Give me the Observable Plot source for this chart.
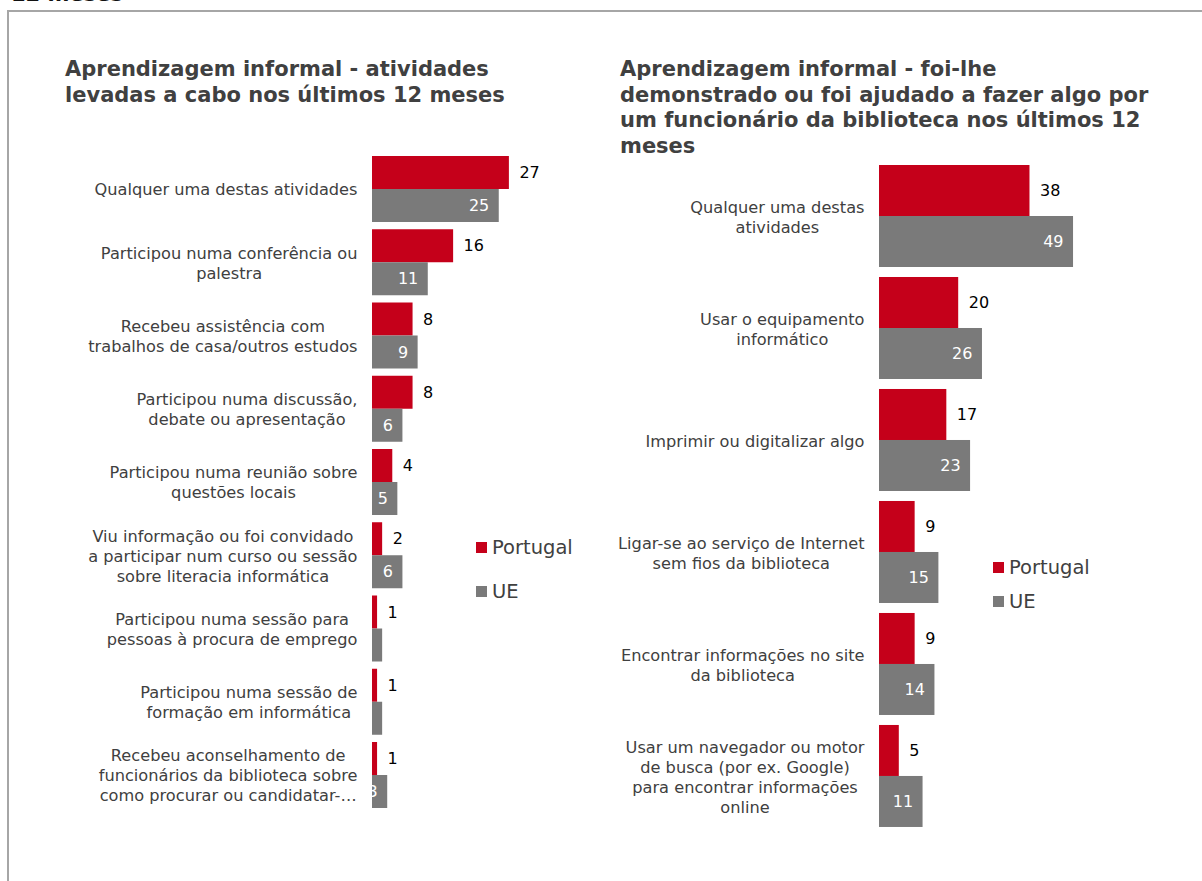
<!DOCTYPE html>
<html>
<head>
<meta charset="utf-8">
<script src="https://cdn.jsdelivr.net/npm/d3@7"></script>
<script src="https://cdn.jsdelivr.net/npm/@observablehq/plot@0.6"></script>
<style>
  html, body { margin: 0; padding: 0; background: #fff; }
  body { width: 1202px; height: 881px; position: relative; overflow: hidden; font-family: "DejaVu Sans", Verdana, sans-serif; }
  .frame { position: absolute; left: 7px; top: 10px; width: 1200px; height: 880px; border-left: 2px solid #a6a6a6; border-top: 2px solid #a6a6a6; box-sizing: border-box; }
  .toptitle { position: absolute; left: 11px; top: -18px; font-size: 21px; font-weight: bold; color: #111; white-space: nowrap; }
  .title { position: absolute; font-size: 21px; font-weight: bold; color: #404040; line-height: 25.5px; white-space: nowrap; }
  .panel { position: absolute; top: 0; }
  .leg { position: absolute; font-size: 19.5px; color: #404040; white-space: nowrap; line-height: 22px; }
  .leg span.sw { display: inline-block; width: 11px; height: 11px; margin-right: 5px; vertical-align: 1px; }
</style>
</head>
<body>
<div class="toptitle">12 meses</div>
<div class="frame"></div>
<div class="title" style="left:65px; top:57px;">Aprendizagem informal - atividades<br>levadas a cabo nos últimos 12 meses</div>
<div class="title" style="left:620px; top:57px;">Aprendizagem informal - foi-lhe<br>demonstrado ou foi ajudado a fazer algo por<br>um funcionário da biblioteca nos últimos 12<br>meses</div>
<div id="left" class="panel" style="left:0px;"></div>
<div id="right" class="panel" style="left:600px;"></div>
<div id="legL"></div>
<div id="legR"></div>
<script>
// ---------- DATA ----------
const series = ["Portugal", "UE"];
const colors = ["#c5001a", "#7a7a7a"];

const leftCategories = [
  "Qualquer uma destas atividades",
  "Participou numa conferência ou\npalestra",
  "Recebeu assistência com\ntrabalhos de casa/outros estudos",
  "Participou numa discussão,\ndebate ou apresentação",
  "Participou numa reunião sobre\nquestões locais",
  "Viu informação ou foi convidado\na participar num curso ou sessão\nsobre literacia informática",
  "Participou numa sessão para\npessoas à procura de emprego",
  "Participou numa sessão de\nformação em informática",
  "Recebeu aconselhamento de\nfuncionários da biblioteca sobre\ncomo procurar ou candidatar-…"
];
const leftPortugal = [27, 16, 8, 8, 4, 2, 1, 1, 1];
const leftUE       = [25, 11, 9, 6, 5, 6, 2, 2, 3];

const rightCategories = [
  "Qualquer uma destas\natividades",
  "Usar o equipamento\ninformático",
  "Imprimir ou digitalizar algo",
  "Ligar-se ao serviço de Internet\nsem fios da biblioteca",
  "Encontrar informações no site\nda biblioteca",
  "Usar um navegador ou motor\nde busca (por ex. Google)\npara encontrar informações\nonline"
];
const rightPortugal = [38, 20, 17, 9, 9, 5];
const rightUE       = [49, 26, 23, 15, 14, 11];

// ---------- HELPERS ----------
const FONT = "DejaVu Sans";
const labelSize = 16.2;
const valueSize = 16;
const canvas = document.createElement("canvas");
const ctx = canvas.getContext("2d");
function textWidth(s, size) {
  ctx.font = `${size}px "${FONT}"`;
  return Math.max(...s.split("\n").map(l => ctx.measureText(l).width));
}

function panel(cats, pt, ue, opts) {
  const {width, height, marginLeft, marginTop, marginBottom, domainMax, paddingInner} = opts;
  const k = opts.pxPerUnit;
  const marginRight = width - marginLeft - k * domainMax;
  const rows = [];
  cats.forEach((c, i) => {
    rows.push({cat: c, series: series[0], value: pt[i]});
    rows.push({cat: c, series: series[1], value: ue[i]});
  });
  const gap = 15;
  const labels = cats.map(c => ({cat: c, x: -(gap + textWidth(c, labelSize) / 2) / k}));
  return Plot.plot({
    width, height, marginLeft, marginRight, marginTop, marginBottom,
    style: {fontFamily: FONT, background: "transparent", overflow: "visible"},
    x: {domain: [0, domainMax], axis: null},
    y: {domain: series, padding: 0, axis: null},
    fy: {domain: cats, paddingInner, paddingOuter: 0, round: false, axis: null},
    color: {domain: series, range: colors},
    marks: [
      Plot.barX(rows, {x: "value", y: "series", fy: "cat", fill: "series"}),
      Plot.text(rows.filter(d => d.series === "Portugal"), {
        x: "value", y: "series", fy: "cat", text: d => String(d.value),
        textAnchor: "start", dx: 10, fill: "#000", fontSize: valueSize
      }),
      Plot.text(rows.filter(d => d.series === "UE" && d.value >= 3), {
        x: "value", y: "series", fy: "cat", text: d => String(d.value),
        textAnchor: "end", dx: -10, fill: "#fff", fontSize: valueSize
      }),
      Plot.text(labels, {
        x: "x", fy: "cat", text: "cat", textAnchor: "middle", lineAnchor: "middle",
        frameAnchor: "middle", fill: "#404040", fontSize: labelSize, lineHeight: 20 / labelSize
      })
    ]
  });
}

document.getElementById("left").append(panel(leftCategories, leftPortugal, leftUE, {
  width: 600, height: 860, marginLeft: 372, marginTop: 155, marginBottom: 52,
  domainMax: 40, pxPerUnit: 5.07, paddingInner: 0.0853
}));
document.getElementById("right").append(panel(rightCategories, rightPortugal, rightUE, {
  width: 602, height: 860, marginLeft: 279, marginTop: 165, marginBottom: 33,
  domainMax: 70, pxPerUnit: 3.96, paddingInner: 0.089
}));

// ---------- LEGENDS ----------
function legend(id, left, tops) {
  const el = document.getElementById(id);
  series.forEach((s, i) => {
    const d = document.createElement("div");
    d.className = "leg";
    d.style.left = left + "px";
    d.style.top = (tops[i] - 11) + "px";
    d.innerHTML = `<span class="sw" style="background:${colors[i]}"></span>${s}`;
    el.append(d);
  });
}
legend("legL", 476, [548, 592]);
legend("legR", 993, [568, 602]);
</script>
</body>
</html>
